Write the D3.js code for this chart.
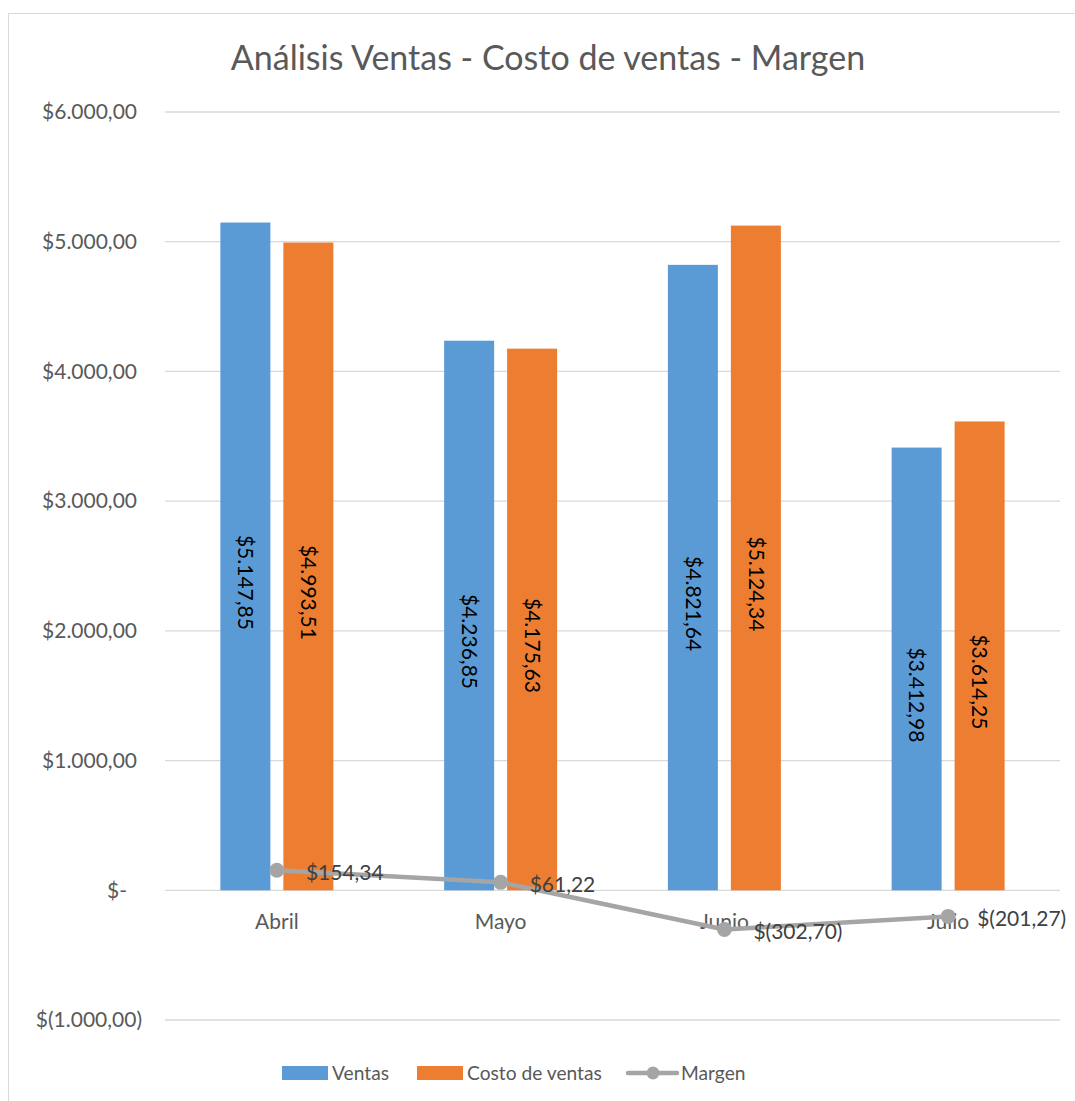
<!DOCTYPE html>
<html>
<head>
<meta charset="utf-8">
<script src="https://cdn.jsdelivr.net/npm/d3@7"></script>
<style>
  body { margin: 0; background: #fff; }
  text { font-family: Lato, "Open Sans", sans-serif; }
</style>
</head>
<body>
<svg id="chart" width="1075" height="1101"></svg>
<script>
const months = ["Abril", "Mayo", "Junio", "Julio"];
const ventas = [5147.85, 4236.85, 4821.64, 3412.98];
const costo = [4993.51, 4175.63, 5124.34, 3614.25];
const margen = [154.34, 61.22, -302.70, -201.27];
const yTicks = [-1000, 0, 1000, 2000, 3000, 4000, 5000, 6000];
const seriesNames = ["Ventas", "Costo de ventas", "Margen"];

const colors = { Ventas: "#5B9BD5", "Costo de ventas": "#ED7D31", Margen: "#A5A5A5" };

const locale = d3.formatLocale({ decimal: ",", thousands: ".", grouping: [3], currency: ["$", ""] });
const num = locale.format(",.2f");
function money(v) {
    if (Math.abs(v) < 1e-9) return "$-";
    return v < 0 ? "$(" + num(-v) + ")" : "$" + num(v);
}

const svg = d3.select("#chart");

// frame
svg.append("rect")
    .attr("x", 8.5).attr("y", 13.5)
    .attr("width", 1080).attr("height", 1100)
    .attr("fill", "none").attr("stroke", "#D9D9D9");

const x0 = d3.scaleBand().domain(months).range([165, 1060]).padding(0);
const x1 = d3.scaleBand().domain(["Ventas", "Costo de ventas"])
    .range([x0.bandwidth() * 0.2475, x0.bandwidth() * 0.7525])
    .paddingInner(0.206);
const y = d3.scaleLinear().domain([-1000, 6000]).range([1020, 112]);

// title
svg.append("text")
    .attr("x", 548).attr("y", 70)
    .attr("text-anchor", "middle")
    .attr("font-size", 34)
    .attr("fill", "#595959")
    .text("Análisis Ventas - Costo de ventas - Margen");

// gridlines
svg.append("g").selectAll("line")
    .data(yTicks)
    .join("line")
    .attr("x1", 165).attr("x2", 1060)
    .attr("y1", d => y(d)).attr("y2", d => y(d))
    .attr("stroke", "#D9D9D9").attr("stroke-width", 1.3);

// y tick labels
svg.append("g").selectAll("text")
    .data(yTicks)
    .join("text")
    .attr("x", d => d < 0 ? 142 : (d === 0 ? 127 : 137))
    .attr("y", d => y(d))
    .attr("dy", "0.35em")
    .attr("text-anchor", "end")
    .attr("font-size", 21)
    .attr("fill", "#595959")
    .text(d => money(d));

// bars
const barData = months.map((m, i) => [
    { month: m, name: "Ventas", value: ventas[i] },
    { month: m, name: "Costo de ventas", value: costo[i] }
]).flat();

const bars = svg.append("g");
bars.selectAll("rect")
    .data(barData)
    .join("rect")
    .attr("x", d => x0(d.month) + x1(d.name))
    .attr("width", x1.bandwidth())
    .attr("y", d => y(d.value))
    .attr("height", d => y(0) - y(d.value))
    .attr("fill", d => colors[d.name]);

// category labels
svg.append("g").selectAll("text")
    .data(months)
    .join("text")
    .attr("x", d => x0(d) + x0.bandwidth() / 2)
    .attr("y", 929)
    .attr("text-anchor", "middle")
    .attr("font-size", 21)
    .attr("fill", "#595959")
    .text(d => d);

// bar value labels (rotated)
bars.selectAll("text")
    .data(barData)
    .join("text")
    .attr("transform", d => {
        const cx = x0(d.month) + x1(d.name) + x1.bandwidth() / 2;
        const cy = (y(d.value) + y(0)) / 2 + 26;
        return `translate(${cx},${cy}) rotate(90)`;
    })
    .attr("text-anchor", "middle")
    .attr("dy", "0.35em")
    .attr("font-size", 21)
    .attr("fill", "#000")
    .text(d => money(d.value));

// margen line
const pts = months.map((m, i) => ({ month: m, value: margen[i] }));
const cxOf = d => x0(d.month) + x0.bandwidth() / 2;
const line = d3.line().x(cxOf).y(d => y(d.value));

svg.append("path")
    .datum(pts)
    .attr("d", line)
    .attr("fill", "none")
    .attr("stroke", colors.Margen)
    .attr("stroke-width", 4.5)
    .attr("stroke-linejoin", "round");

svg.append("g").selectAll("circle")
    .data(pts)
    .join("circle")
    .attr("cx", cxOf)
    .attr("cy", d => y(d.value))
    .attr("r", 7.5)
    .attr("fill", colors.Margen);

svg.append("g").selectAll("text")
    .data(pts)
    .join("text")
    .attr("x", d => cxOf(d) + 29)
    .attr("y", d => y(d.value) + 2)
    .attr("dy", "0.35em")
    .attr("font-size", 21)
    .attr("fill", "#404040")
    .text(d => money(d.value));

// legend
const legend = svg.append("g").attr("transform", "translate(0,1073)");
const legendItems = [
    { name: "Ventas", x: 282, type: "rect" },
    { name: "Costo de ventas", x: 417, type: "rect" },
    { name: "Margen", x: 628, type: "line" }
];
legendItems.forEach(it => {
    const g = legend.append("g").attr("transform", `translate(${it.x},0)`);
    if (it.type === "rect") {
        g.append("rect").attr("x", 0).attr("y", -7).attr("width", 46).attr("height", 14)
            .attr("fill", colors[it.name]);
    } else {
        g.append("line").attr("x1", 0).attr("x2", 49).attr("y1", 0).attr("y2", 0)
            .attr("stroke", colors[it.name]).attr("stroke-width", 4.5).attr("stroke-linecap", "round");
        g.append("circle").attr("cx", 25).attr("cy", 0).attr("r", 6.5).attr("fill", colors[it.name]);
    }
    g.append("text")
        .attr("x", it.type === "rect" ? 50 : 53)
        .attr("y", 0)
        .attr("dy", "0.35em")
        .attr("font-size", 19.2)
        .attr("fill", "#595959")
        .text(it.name);
});
</script>
</body>
</html>
